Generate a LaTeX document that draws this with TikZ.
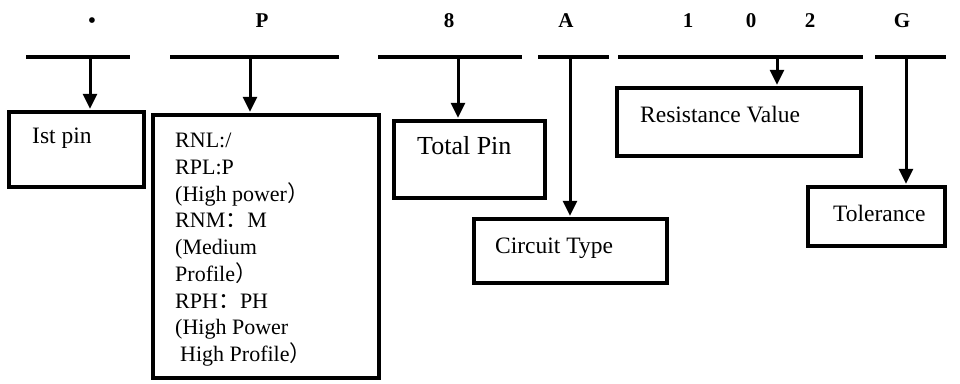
\documentclass[tikz,border=0pt]{standalone}
\usepackage{fontspec}
\setmainfont{Liberation Serif}
\newfontfamily\cjk{Noto Sans CJK SC}
\usetikzlibrary{arrows.meta}

\begin{document}
\begin{tikzpicture}[
  x=1pt, y=-1pt,
  >={Triangle[length=15pt,width=14pt]},
  box/.style={draw, line width=3.5pt, inner sep=0pt},
  bar/.style={line width=4pt},
  feed/.style={->, line width=3pt, shorten >=1.5pt},
  code/.style={anchor=base, inner sep=0pt, font=\bfseries\fontsize{21}{24}\selectfont},
  lbl/.style={anchor=base west, inner sep=0pt, font=\fontsize{23.5}{28}\selectfont}
]
\useasboundingbox (0,0) rectangle (960,383);

% Code letters on top
\node[code] (cdot) at (92,27)  {•};
\node[code] (cp)   at (262,27) {P};
\node[code] (c8)   at (449,27) {8};
\node[code] (ca)   at (566,27) {A};
\node[code] (c1)   at (688,27) {1};
\node[code] (c0)   at (751,27) {0};
\node[code] (c2)   at (810,27) {2};
\node[code] (cg)   at (902,27) {G};

% Underline bars
\draw[bar] (26,57)  -- (130,57);
\draw[bar] (170,57) -- (339,57);
\draw[bar] (378,57) -- (522,57);
\draw[bar] (538,57) -- (609,57);
\draw[bar] (618,57) -- (863,57);
\draw[bar] (875,57) -- (946,57);

% Boxes
\node[box, minimum width=135pt, minimum height=75pt]  (pin)   at (76.5,149.5) {};
\node[box, minimum width=226pt, minimum height=263pt] (ptype) at (266,246.5)  {};
\node[box, minimum width=151pt, minimum height=77pt]  (total) at (469.5,159.5) {};
\node[box, minimum width=193pt, minimum height=64pt]  (circ)  at (570.5,251)  {};
\node[box, minimum width=244pt, minimum height=68pt]  (res)   at (739,122)    {};
\node[box, minimum width=137pt, minimum height=59pt]  (tol)   at (876.5,216.5) {};

% Box texts
\node[lbl] (tpin) at (32,143) {Ist pin};
\node[lbl, font=\fontsize{26}{30}\selectfont] (ttotal) at (417,154) {Total Pin};
\node[lbl] (tcirc) at (495,253) {Circuit Type};
\node[lbl] (tres)  at (640,122) {Resistance Value};
\node[lbl] (ttol)  at (833,221) {Tolerance};
\node[anchor=north west, inner sep=0pt, align=left,
      font=\fontsize{22}{26.75}\selectfont] (tptype) at (175,133)
  {RNL:/\\RPL:P\\(High power{\cjk ）}\\RNM{\cjk ：}M\\(Medium\\Profile{\cjk ）}\\%
   RPH{\cjk ：}PH\\(High Power\\\hspace{5pt}High Profile{\cjk ）}};

% Arrows from bars to boxes
\coordinate (s1) at (90,57);
\coordinate (s2) at (250,57);
\coordinate (s3) at (458,57);
\coordinate (s4) at (570,57);
\coordinate (s5) at (777,57);
\coordinate (s6) at (906,57);
\draw[feed] (s1) -- (s1 |- pin.north);
\draw[feed] (s2) -- (s2 |- ptype.north);
\draw[feed] (s3) -- (s3 |- total.north);
\draw[feed] (s4) -- (s4 |- circ.north);
\draw[feed] (s5) -- (s5 |- res.north);
\draw[feed] (s6) -- (s6 |- tol.north);

\end{tikzpicture}
\end{document}
